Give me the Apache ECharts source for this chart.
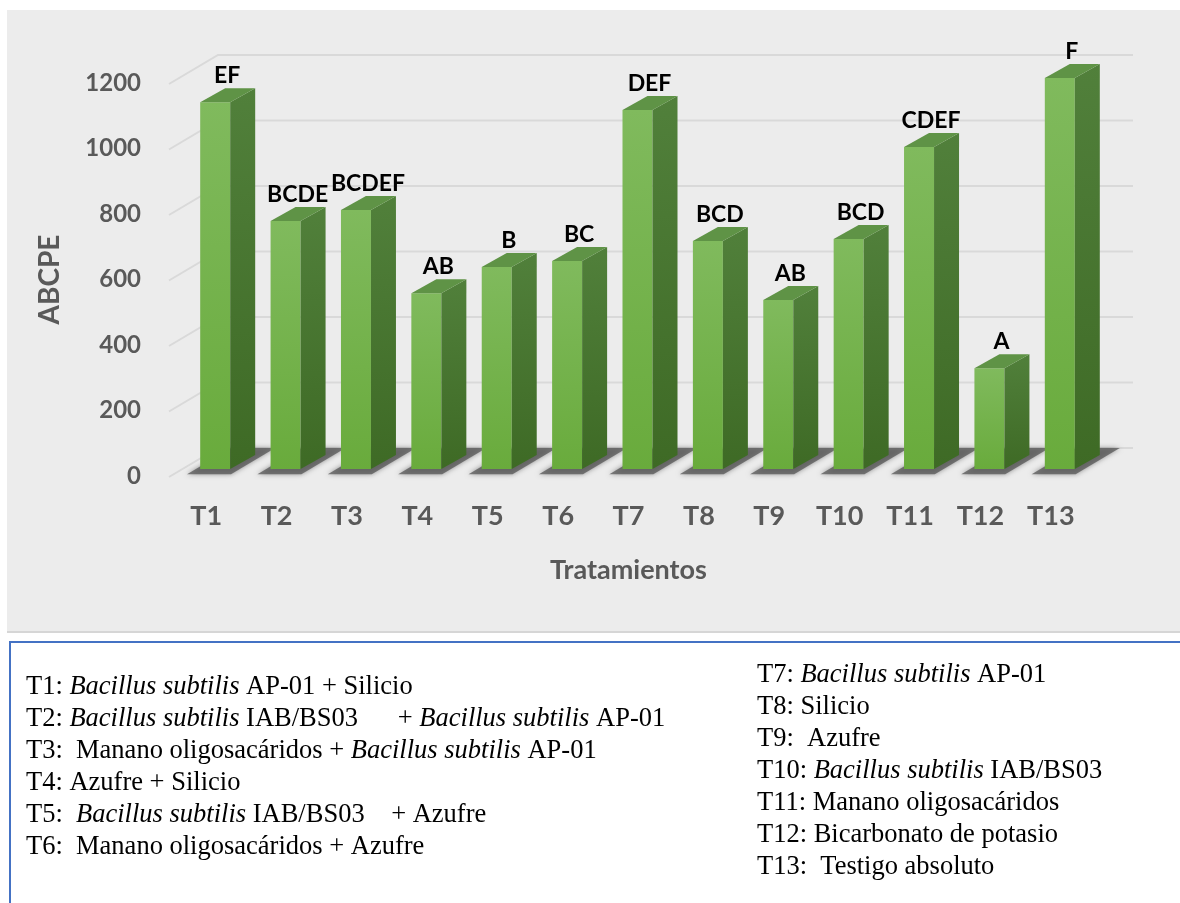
<!DOCTYPE html>
<html>
<head>
<meta charset="utf-8">
<title>ABCPE por tratamiento</title>
<script src="https://cdn.jsdelivr.net/npm/echarts@6.0.0/dist/echarts.min.js"></script>
<style>
  html, body { margin: 0; padding: 0; background: #fff; }
  #chart { width: 1180px; height: 903px; }
</style>
</head>
<body>
<div id="chart"></div>
<script>
// datos
const tratamientos = ['T1', 'T2', 'T3', 'T4', 'T5', 'T6', 'T7', 'T8', 'T9', 'T10', 'T11', 'T12', 'T13'];
const abcpe = [1120, 757, 791, 537, 617, 635, 1096, 696, 516, 702, 983, 308, 1194];
const letras = ['EF', 'BCDE', 'BCDEF', 'AB', 'B', 'BC', 'DEF', 'BCD', 'AB', 'BCD', 'CDEF', 'A', 'F'];
const yTicks = [0, 200, 400, 600, 800, 1000, 1200];

// leyenda de tratamientos ({i|...} = cursiva)
const leyendaIzq = [
  '{n|T1: }{i|Bacillus subtilis}{n| AP-01 + Silicio}',
  '{n|T2: }{i|Bacillus subtilis}{n| IAB/BS03      + }{i|Bacillus subtilis}{n| AP-01}',
  '{n|T3:  Manano oligosacáridos + }{i|Bacillus subtilis}{n| AP-01}',
  '{n|T4: Azufre + Silicio}',
  '{n|T5:  }{i|Bacillus subtilis}{n| IAB/BS03    + Azufre}',
  '{n|T6:  Manano oligosacáridos + Azufre}'
];
const leyendaDer = [
  '{n|T7: }{i|Bacillus subtilis}{n| AP-01}',
  '{n|T8: Silicio}',
  '{n|T9:  Azufre}',
  '{n|T10: }{i|Bacillus subtilis}{n| IAB/BS03}',
  '{n|T11: Manano oligosacáridos}',
  '{n|T12: Bicarbonato de potasio}',
  '{n|T13:  Testigo absoluto}'
];

// perspectiva 3D
const DX = 47, DY = -28;        // profundidad del suelo / pared
const FX = 9, FY = -7;          // cara frontal de la barra
const HALF = 15;                // media anchura de la barra
const SX = 25, SY = -14;        // profundidad de la barra

const chart = echarts.init(document.getElementById('chart'));

const serif = { fontFamily: 'Liberation Serif', fontSize: 26.5, color: '#000' };
const richLeyenda = {
  n: serif,
  i: Object.assign({}, serif, { fontStyle: 'italic' })
};

function lineaLeyenda(txt, x, y) {
  return {
    type: 'text', x: x, y: y, z: 5,
    style: { text: txt, rich: richLeyenda, verticalAlign: 'middle' }
  };
}

const graficos = [
  { type: 'rect', z: -10, shape: { x: 7, y: 10, width: 1173, height: 622 }, style: { fill: '#ececec' } },
  { type: 'line', z: -9, shape: { x1: 7, y1: 632, x2: 1180, y2: 632 }, style: { stroke: '#d6d6d6', lineWidth: 2 } },
  { type: 'rect', z: -8, shape: { x: 10, y: 642, width: 1190, height: 300 }, style: { fill: '#fff', stroke: '#4472c4', lineWidth: 2 } }
];
leyendaIzq.forEach((t, i) => graficos.push(lineaLeyenda(t, 26, 687 + i * 32)));
leyendaDer.forEach((t, i) => graficos.push(lineaLeyenda(t, 757, 675 + i * 32)));

chart.setOption({
  textStyle: { fontFamily: 'Lato' },
  graphic: graficos,
  grid: { left: 171, right: 94, top: 83, bottom: 427 },
  xAxis: {
    type: 'category',
    data: tratamientos,
    name: 'Tratamientos',
    nameLocation: 'middle',
    nameGap: 81,
    nameTextStyle: { fontFamily: 'Lato', fontWeight: 'bold', fontSize: 27, color: '#595959' },
    axisLine: { show: false },
    axisTick: { show: false },
    axisLabel: { margin: 27, fontFamily: 'Lato', fontWeight: 'bold', fontSize: 27, color: '#595959' }
  },
  yAxis: {
    type: 'value',
    min: 0,
    max: 1200,
    interval: 200,
    name: 'ABCPE',
    nameLocation: 'middle',
    nameGap: 107,
    nameTextStyle: { fontFamily: 'Lato', fontWeight: 'bold', fontSize: 28, color: '#595959' },
    axisLine: { show: false },
    axisTick: { show: false },
    splitLine: { show: false },
    axisLabel: {
      margin: 30, fontFamily: 'Lato', fontWeight: 'bold', fontSize: 24, color: '#595959',
      formatter: v => String(v)
    }
  },
  series: [
    {
      // lineas de la pared del fondo
      type: 'custom',
      silent: true,
      z: 1,
      data: yTicks.map(v => [0, v]),
      encode: { x: 0, y: 1 },
      renderItem: function (params, api) {
        const cs = params.coordSys;
        const y = api.coord([0, api.value(1)])[1];
        return {
          type: 'polyline',
          shape: { points: [[cs.x - 2, y + 1], [cs.x + DX, y + DY], [cs.x + cs.width + DX, y + DY]] },
          style: { stroke: '#d9d9d9', lineWidth: 2, fill: null }
        };
      }
    },
    {
      // sombra en el suelo
      type: 'custom',
      silent: true,
      z: 2,
      data: abcpe.map((v, i) => [i, v]),
      encode: { x: 0, y: 1 },
      renderItem: function (params, api) {
        const b = api.coord([api.value(0), 0]);
        const w = 22;
        const x0 = b[0] + DX * 0.06, y0 = b[1] + DY * 0.06;
        return {
          type: 'polygon',
          shape: { points: [[x0 - w, y0], [x0 + w, y0], [b[0] + DX + w, b[1] + DY], [b[0] + DX - w, b[1] + DY]] },
          style: { fill: 'rgba(85,85,85,0.75)', shadowBlur: 5, shadowColor: 'rgba(85,85,85,0.8)' }
        };
      }
    },
    {
      // barras 3D
      type: 'custom',
      z: 3,
      data: abcpe.map((v, i) => [i, v]),
      encode: { x: 0, y: 1 },
      renderItem: function (params, api) {
        const base = api.coord([api.value(0), 0]);
        const top = api.coord([api.value(0), api.value(1)]);
        const cx = base[0] + FX;
        const yb = base[1] + FY;
        const yt = top[1] + FY;
        const l = cx - HALF, r = cx + HALF;
        return {
          type: 'group',
          children: [
            {
              type: 'rect',
              shape: { x: l, y: yt, width: r - l, height: yb - yt },
              style: {
                fill: new echarts.graphic.LinearGradient(0, 0, 0, 1, [
                  { offset: 0, color: '#80ba5d' },
                  { offset: 1, color: '#69ab3c' }
                ])
              }
            },
            {
              type: 'polygon',
              shape: { points: [[r, yt], [r + SX, yt + SY], [r + SX, yb + SY], [r, yb]] },
              style: {
                fill: new echarts.graphic.LinearGradient(0, 0, 0, 1, [
                  { offset: 0, color: '#51803b' },
                  { offset: 1, color: '#3e6a25' }
                ])
              }
            },
            {
              type: 'polygon',
              shape: { points: [[l, yt], [r, yt], [r + SX, yt + SY], [l + SX, yt + SY]] },
              style: { fill: '#5f9346' }
            },
            {
              type: 'text',
              style: {
                text: letras[params.dataIndex],
                x: cx + 12,
                y: yt + SY - 1,
                align: 'center',
                verticalAlign: 'bottom',
                font: 'bold 23px Lato',
                fill: '#000'
              }
            }
          ]
        };
      }
    }
  ]
});
</script>
</body>
</html>
